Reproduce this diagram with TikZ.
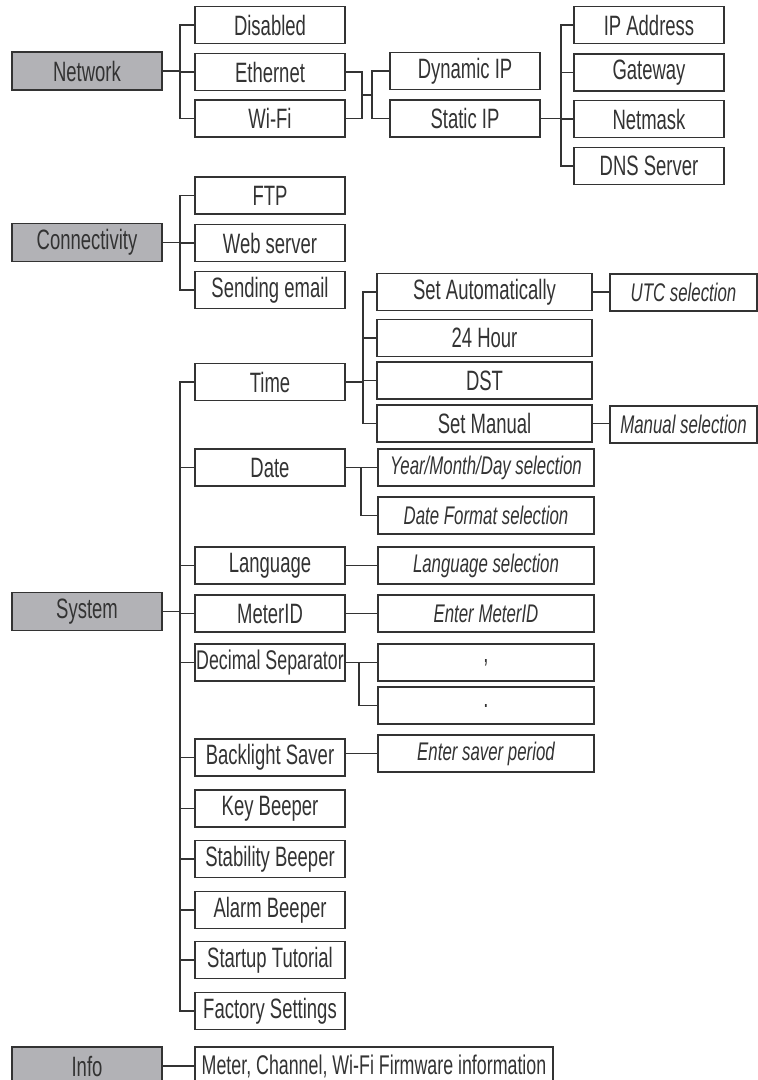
\documentclass[tikz,border=0pt]{standalone}
\usepackage{fontspec}
\setmainfont[FakeStretch=0.66]{Liberation Sans}
\definecolor{linec}{HTML}{333333}
\definecolor{txtc}{HTML}{333333}
\definecolor{rootfill}{HTML}{B2B2B6}
\begin{document}
\begin{tikzpicture}[x=1pt,y=-1pt,
  box/.style={draw=linec,line width=1.8pt,fill=white,text=txtc,inner sep=0pt,
    minimum height=37pt,font=\fontsize{28}{30}\selectfont},
  rootbox/.style={box,fill=rootfill,minimum width=150pt,minimum height=38pt},
  lvone/.style={box,minimum width=150pt},
  lvtwo/.style={minimum width=216pt},
  sel/.style={box,font=\fontsize{25.5}{27}\selectfont\itshape},
  conn/.style={draw=linec,line width=1.8pt}]
\useasboundingbox (0,0) rectangle (758,1080);

% ---------- roots
\node[rootbox] (net) at (87,71) {Network};
\node[rootbox] (con) at (87,242.5) {Connectivity};
\node[rootbox] (sys) at (87,611.5) {System};
\node[rootbox] (inf) at (87,1066) {Info};

% ---------- Network
\node[lvone] (dis) at (270,25) {Disabled};
\node[lvone] (eth) at (270,72) {Ethernet};
\node[lvone] (wif) at (270,118.5) {Wi-Fi};
\node[lvone] (dyn) at (465,71) {Dynamic IP};
\node[lvone] (sta) at (465,118.5) {Static IP};
\node[lvone] (ipa) at (649,25) {IP Address};
\node[lvone] (gat) at (649,72.5) {Gateway};
\node[lvone] (nmk) at (649,119) {Netmask};
\node[lvone] (dns) at (649,166) {DNS Server};

% ---------- Connectivity
\node[lvone] (ftp) at (270,195.5) {FTP};
\node[lvone] (web) at (270,243) {Web server};
\node[lvone] (eml) at (270,290) {Sending email};

% ---------- System
\node[lvone] (tim) at (270,382) {Time};
\node[lvone] (dat) at (270,467.5) {Date};
\node[lvone] (lan) at (270,565.5) {Language};
\node[lvone] (mid) at (270,613.5) {MeterID};
\node[lvone,font=\fontsize{27}{29}\selectfont] (dec) at (270,662.5) {Decimal Separator};
\node[lvone] (bls) at (270,757.5) {Backlight Saver};
\node[lvone] (kbp) at (270,808.5) {Key Beeper};
\node[lvone] (sbp) at (270,859) {Stability Beeper};
\node[lvone] (abp) at (270,910) {Alarm Beeper};
\node[lvone] (stt) at (270,960) {Startup Tutorial};
\node[lvone] (fac) at (270,1011) {Factory Settings};

\node[box,minimum width=215pt] (sau) at (484.5,292) {Set Automatically};
\node[box,minimum width=215pt] (h24) at (484.5,338) {24 Hour};
\node[box,minimum width=215pt] (dst) at (484.5,380.5) {DST};
\node[box,minimum width=215pt] (sma) at (484.5,423.5) {Set Manual};
\node[sel,minimum width=147pt] (utc) at (683.5,292.5) {UTC selection};
\node[sel,minimum width=147pt] (msel) at (683.5,424.5) {Manual selection};

\node[sel,lvtwo] (ymd) at (486,467.5) {Year/Month/Day selection};
\node[sel,lvtwo] (dfs) at (486,515.5) {Date Format selection};
\node[sel,lvtwo] (lsel) at (486,565.5) {Language selection};
\node[sel,lvtwo] (emid) at (486,613.5) {Enter MeterID};
\node[box,lvtwo] (cma) at (486,662.5) {,};
\node[box,lvtwo] (dot) at (486,705.5) {.};
\node[sel,lvtwo] (esp) at (486,753.5) {Enter saver period};

% ---------- Info
\node[box,minimum width=358pt,minimum height=38pt,font=\fontsize{27}{29}\selectfont] (mci) at (374,1066) {Meter, Channel, Wi-Fi Firmware information};

% ---------- bus coordinates
\coordinate (bA) at (180,0);
\coordinate (bB) at (362,0);
\coordinate (bC) at (372,0);
\coordinate (bD) at (561,0);
\coordinate (bE) at (363,0);
\coordinate (bF) at (361,0);
\coordinate (bG) at (359,0);
\coordinate (mE) at (362,95);

% Network
\draw[conn] (net.east) -- (net.east -| bA);
\draw[conn] (dis.west) -- (dis.west -| bA) -- (wif.west -| bA) -- (wif.west);
\draw[conn] (eth.west) -- (eth.west -| bA);
\draw[conn] (eth.east) -- (eth.east -| bB) -- (wif.east -| bB) -- (wif.east);
\draw[conn] (mE) -- (mE -| bC);
\draw[conn] (dyn.west) -- (dyn.west -| bC) -- (sta.west -| bC) -- (sta.west);
\draw[conn] (sta.east) -- (sta.east -| bD);
\draw[conn] (ipa.west) -- (ipa.west -| bD) -- (dns.west -| bD) -- (dns.west);
\draw[conn] (gat.west) -- (gat.west -| bD);
\draw[conn] (nmk.west) -- (nmk.west -| bD);

% Connectivity
\draw[conn] (con.east) -- (con.east -| bA);
\draw[conn] (ftp.west) -- (ftp.west -| bA) -- (eml.west -| bA) -- (eml.west);
\draw[conn] (web.west) -- (web.west -| bA);

% System
\draw[conn] (sys.east) -- (sys.east -| bA);
\draw[conn] (tim.west) -- (tim.west -| bA) -- (fac.west -| bA) -- (fac.west);
\foreach \n in {dat,lan,mid,dec,bls,kbp,sbp,abp,stt}
  \draw[conn] (\n.west) -- (\n.west -| bA);

\draw[conn] (tim.east) -- (tim.east -| bE);
\draw[conn] (sau.west) -- (sau.west -| bE) -- (sma.west -| bE) -- (sma.west);
\draw[conn] (h24.west) -- (h24.west -| bE);
\draw[conn] (dst.west) -- (dst.west -| bE);
\draw[conn] (sau.east) -- (sau.east -| utc.west);
\draw[conn] (sma.east) -- (sma.east -| msel.west);

\draw[conn] (dat.east) -- (ymd.west);
\draw[conn] (ymd.west -| bF) -- (dfs.west -| bF) -- (dfs.west);
\draw[conn] (lan.east) -- (lsel.west);
\draw[conn] (mid.east) -- (emid.west);
\draw[conn] (dec.east) -- (cma.west);
\draw[conn] (cma.west -| bG) -- (dot.west -| bG) -- (dot.west);
\draw[conn] (esp.west -| bls.east) -- (esp.west);

% Info
\draw[conn] (inf.east) -- (mci.west);
\end{tikzpicture}
\end{document}
